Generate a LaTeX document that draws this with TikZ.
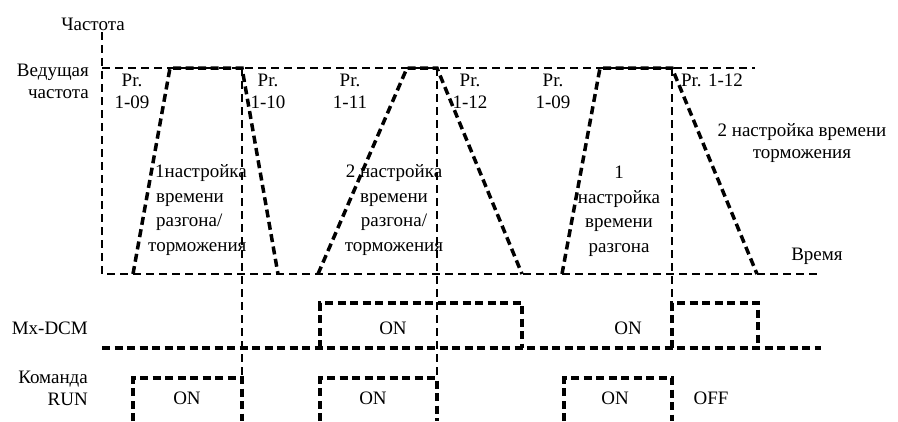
\documentclass[tikz,border=0pt]{standalone}
\usepackage{fontspec}
\setmainfont{Liberation Serif}
\begin{document}
\begin{tikzpicture}[x=1pt,y=-1pt,
  thin dash/.style={line width=1.2pt,dash pattern=on 8pt off 5pt},
  thick dash/.style={line width=3.5pt,dash pattern=on 8pt off 4.5pt},
  lbl/.style={inner sep=0pt,font=\fontsize{19}{22}\selectfont},
  blk/.style={inner sep=0pt,font=\fontsize{19}{24.5}\selectfont}]
\useasboundingbox (0,0) rectangle (898,421);
% axes
\draw[thin dash] (102,32) -- (102,274) -- (821,274);
\draw[thin dash] (102,68) -- (755,68);
% vertical markers
\draw[thin dash] (242,68) -- (242,378);
\draw[thin dash] (437,68) -- (437,378);
\draw[thin dash] (672,68) -- (672,303);
% frequency trapezoids
\draw[thick dash] (133,274) -- (170,68) -- (242,68) -- (278,274);
\draw[thick dash] (318,274) -- (407,68) -- (437,68) -- (522,274);
\draw[thick dash] (562,274) -- (600,68) -- (672,68) -- (757,274);
% Mx-DCM
\draw[thick dash] (102,348) -- (821,348);
\draw[thick dash] (320,348) -- (320,303) -- (522,303) -- (522,348);
\draw[thick dash] (672,348) -- (672,303) -- (758,303) -- (758,348);
% RUN
\draw[thick dash] (133,421) -- (133,378) -- (242,378) -- (242,421);
\draw[thick dash] (320,421) -- (320,378) -- (437,378) -- (437,421);
\draw[thick dash] (564,421) -- (564,378) -- (672,378) -- (672,421);
% labels
\node[lbl] (freq) at (93,24) {Частота};
\node[lbl,align=right,anchor=east] (master) at (89,81) {Ведущая\\частота};
\node[lbl,align=center] (p1) at (132,91) {Pr.\\1-09};
\node[lbl,align=center] (p2) at (268,91) {Pr.\\1-10};
\node[lbl,align=center] (p3) at (350,91) {Pr.\\1-11};
\node[lbl,align=center] (p4) at (470,91) {Pr.\\1-12};
\node[lbl,align=center] (p5) at (553,91) {Pr.\\1-09};
\node[lbl] (p6) at (712,80) {Pr. 1-12};
\node[lbl,align=center] (t4) at (802,143) {2 настройка времени\\торможения};
\node[blk,align=left,anchor=west] (t1) at (148,210) {\hspace*{7pt}1настройка\\\hspace*{8pt}времени\\\hspace*{8pt}разгона/\\торможения};
\node[blk,align=center] (t2) at (394,210) {2 настройка\\времени\\разгона/\\торможения};
\node[blk,align=center] (t3) at (619,211) {1\\настройка\\времени\\разгона};
\node[lbl] (time) at (817,256) {Время};
\node[lbl,anchor=east] (dcm) at (88,328) {Mx-DCM};
\node[lbl,align=right,anchor=east] (run) at (88,388) {Команда\\RUN};
\node[lbl] (on1) at (393,328) {ON};
\node[lbl] (on2) at (628,328) {ON};
\node[lbl] (on3) at (187,398) {ON};
\node[lbl] (on4) at (373,398) {ON};
\node[lbl] (on5) at (615,398) {ON};
\node[lbl] (off) at (711,398) {OFF};
\end{tikzpicture}
\end{document}
